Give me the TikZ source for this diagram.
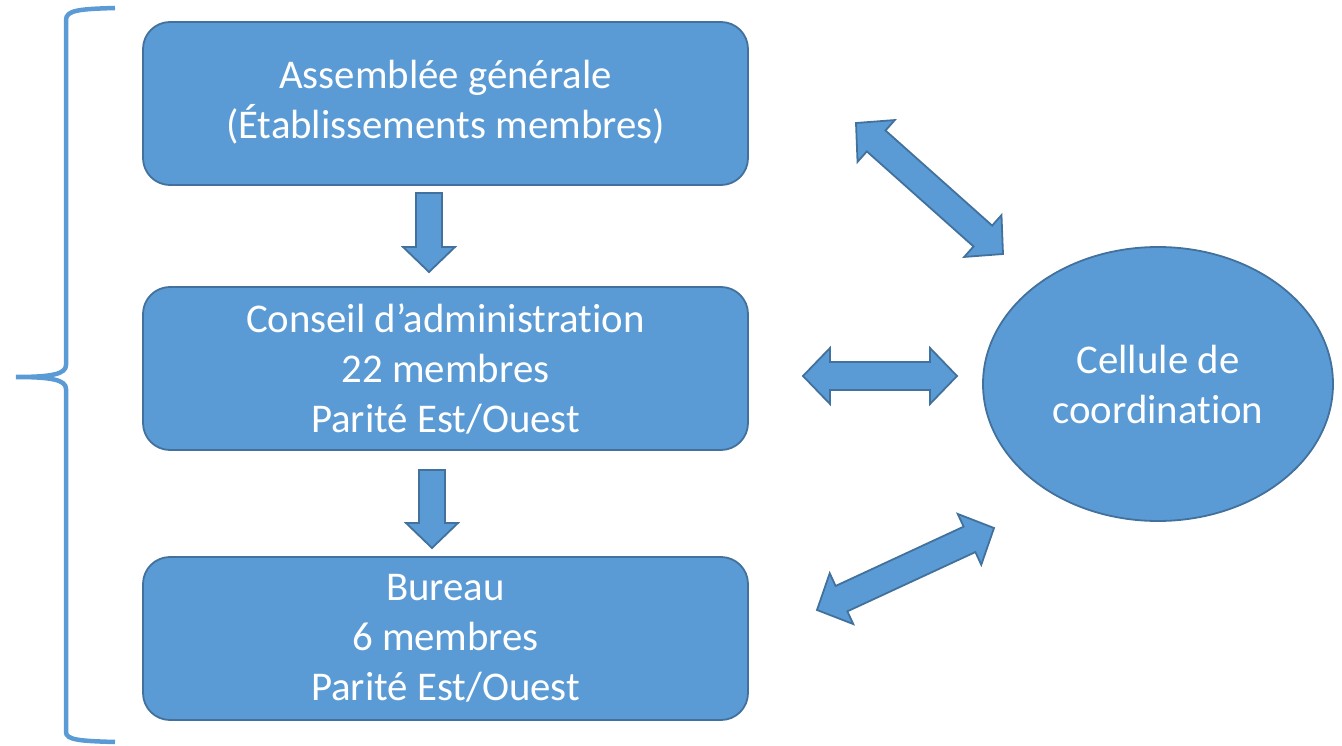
\documentclass[tikz,border=0pt]{standalone}
\usepackage{fontspec}
\setmainfont{Carlito}[Ligatures=NoCommon]
\usetikzlibrary{calc,shapes.geometric}
\definecolor{fillblue}{HTML}{5B9BD5}
\definecolor{edgeblue}{HTML}{41719C}
\tikzset{
  box/.style={draw=edgeblue, line width=1.8pt, fill=fillblue, rounded corners=27pt,
    minimum width=605pt, minimum height=163pt, text=white, align=center,
    font=\fontsize{40.8}{50}\selectfont, inner sep=0pt},
  oval/.style={draw=edgeblue, line width=1.8pt, fill=fillblue, ellipse,
    minimum width=350pt, minimum height=274pt, text=white, align=center,
    font=\fontsize{40.8}{50}\selectfont, inner sep=0pt},
  blockarrow/.style={draw=edgeblue, line width=1.8pt, fill=fillblue, line join=miter},
  bracestyle/.style={draw=fillblue, line width=4.5pt}
}
\newcommand{\dblarrow}[2]{%
  \coordinate (q1) at ($(#1)!27pt!(#2)$);
  \coordinate (q2) at ($(#2)!27pt!(#1)$);
  \draw[blockarrow] (#1) -- ($(q1)!28pt!90:(#2)$) -- ($(q1)!14pt!90:(#2)$)
    -- ($(q2)!14pt!-90:(#1)$) -- ($(q2)!28pt!-90:(#1)$) -- (#2)
    -- ($(q2)!28pt!90:(#1)$) -- ($(q2)!14pt!90:(#1)$)
    -- ($(q1)!14pt!-90:(#2)$) -- ($(q1)!28pt!-90:(#2)$) -- cycle;}
\newcommand{\sglarrow}[2]{%
  \coordinate (q2) at ($(#2)!25pt!(#1)$);
  \draw[blockarrow] ($(#1)!13pt!90:(#2)$) -- ($(q2)!13pt!-90:(#1)$)
    -- ($(q2)!26pt!-90:(#1)$) -- (#2) -- ($(q2)!26pt!90:(#1)$)
    -- ($(q2)!13pt!90:(#1)$) -- ($(#1)!13pt!-90:(#2)$) -- cycle;}
\begin{document}
\begin{tikzpicture}[x=1pt,y=-1pt]
\useasboundingbox (0,0) rectangle (1342,746);
\node[box] (ag) at (445.5,103.5) {\raisebox{-3pt}{\begin{tabular}{@{}c@{}}Assemblée générale\\(Établissements membres)\end{tabular}}};
\node[box] (ca) at (445.5,368.5) {Conseil d’administration\\22 membres\\Parité Est/Ouest};
\node[box] (bu) at (445.5,638.5) {Bureau\\6 membres\\Parité Est/Ouest};
\node[oval] (cc) at (1158,384) {Cellule de\\coordination};
% arrow endpoints
\coordinate (d1a) at (429,193);
\coordinate (d1b) at (429,272);
\coordinate (d2a) at (432,470);
\coordinate (d2b) at (432,548);
\coordinate (h1) at (803,376);
\coordinate (h2) at (957,376);
\coordinate (t1) at (856,123);
\coordinate (t2) at (1003,254);
\coordinate (b1) at (817,610);
\coordinate (b2) at (994,528);
\sglarrow{d1a}{d1b}
\sglarrow{d2a}{d2b}
\dblarrow{h1}{h2}
\dblarrow{t1}{t2}
\dblarrow{b1}{b2}
% brace
\draw[bracestyle] (115,8) .. controls (80,9) and (66,10) .. (66,20)
  -- (66,365) .. controls (66,374) and (52,377) .. (16,377)
  .. controls (52,377) and (66,380) .. (66,389)
  -- (66,732) .. controls (66,740) and (80,741) .. (115,742);
\end{tikzpicture}
\end{document}
